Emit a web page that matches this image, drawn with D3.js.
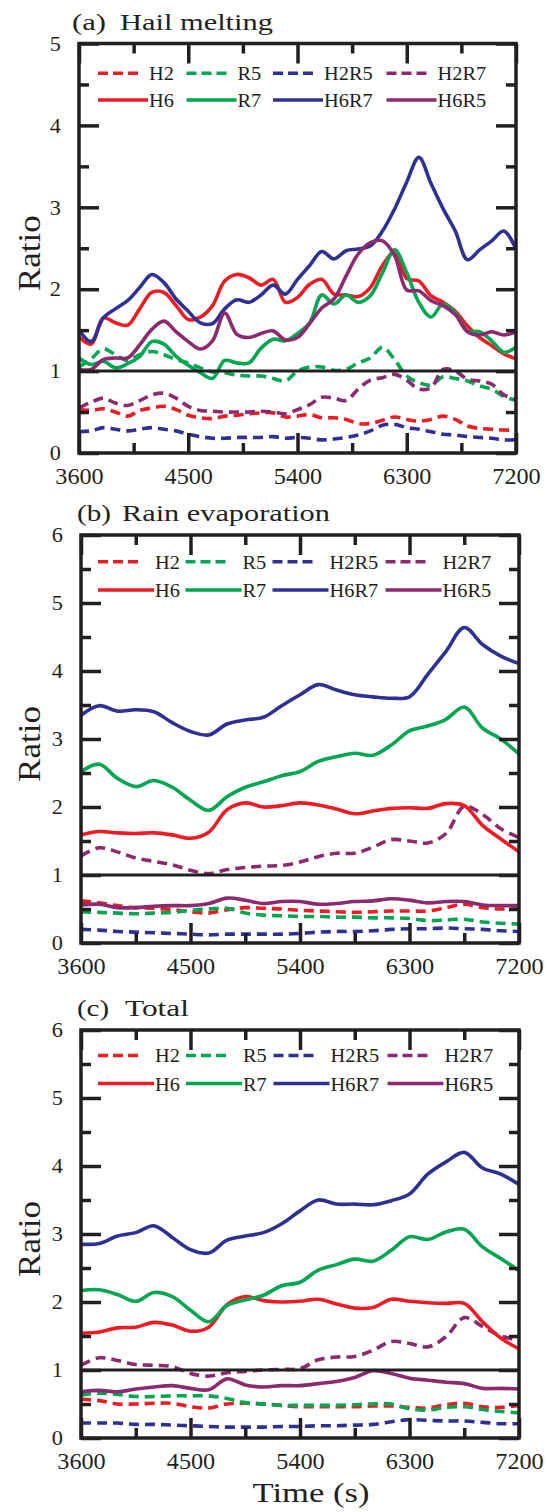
<!DOCTYPE html>
<html lang="en">
<head>
<meta charset="UTF-8">
<title>Ratio time series</title>
<script src="https://d3js.org/d3.v7.min.js"></script>
<style>
  body { margin: 0; background: #fff; }
  svg { display: block; }
</style>
</head>
<body>
<svg id="chart" width="547" height="1512"></svg>
<script>
// series, colours and dash style
const seriesNames = ["H2", "R5", "H2R5", "H2R7", "H6", "R7", "H6R7", "H6R5"];
const seriesColors = ["#ed1c24", "#00a651", "#2e3192", "#8b2a6e", "#ed1c24", "#00a651", "#2e3192", "#8b2a6e"];
const seriesDashed = [true, true, true, true, false, false, false, false];

const xMajor = [3600, 4500, 5400, 6300, 7200];
const xMinor = [4050, 4950, 5850, 6750];

// (a) hail melting, every 100 s
const hailTime = [3600, 3700, 3800, 3900, 4000, 4100, 4200, 4300, 4400, 4500, 4600, 4700, 4800,
  4900, 5000, 5100, 5200, 5300, 5400, 5500, 5600, 5700, 5800, 5900, 6000, 6100, 6200, 6300,
  6400, 6500, 6600, 6700, 6800, 6900, 7000, 7100, 7200];
const hailH2 = [0.53, 0.52, 0.54, 0.50, 0.45, 0.52, 0.55, 0.57, 0.53, 0.46, 0.43, 0.42, 0.45, 0.46, 0.48, 0.49, 0.49, 0.44, 0.45, 0.47,
  0.43, 0.43, 0.41, 0.36, 0.36, 0.40, 0.44, 0.41, 0.39, 0.41, 0.45, 0.41, 0.33, 0.30, 0.29, 0.28, 0.28];
const hailR5 = [1.05, 1.15, 1.27, 1.20, 1.13, 1.20, 1.24, 1.20, 1.14, 1.10, 1.04, 0.99, 0.98, 0.95, 0.94, 0.94, 0.91, 0.88, 1.00, 1.05,
  1.05, 1.01, 1.02, 1.10, 1.16, 1.29, 1.14, 0.94, 0.86, 0.83, 0.93, 0.91, 0.88, 0.82, 0.78, 0.69, 0.64];
const hailH2R5 = [0.26, 0.27, 0.31, 0.29, 0.27, 0.29, 0.31, 0.29, 0.27, 0.23, 0.20, 0.18, 0.18, 0.19, 0.19, 0.19, 0.20, 0.18, 0.19, 0.18,
  0.16, 0.17, 0.19, 0.22, 0.27, 0.34, 0.35, 0.31, 0.29, 0.26, 0.23, 0.22, 0.20, 0.19, 0.18, 0.16, 0.16];
const hailH2R7 = [0.55, 0.62, 0.67, 0.61, 0.58, 0.64, 0.71, 0.73, 0.67, 0.57, 0.52, 0.51, 0.50, 0.50, 0.50, 0.51, 0.50, 0.48, 0.53, 0.59,
  0.68, 0.67, 0.64, 0.78, 0.89, 0.92, 0.96, 0.89, 0.78, 0.80, 1.02, 1.00, 0.90, 0.88, 0.84, 0.71, 0.66];
const hailH6 = [1.42, 1.33, 1.65, 1.59, 1.56, 1.76, 1.96, 1.96, 1.80, 1.63, 1.66, 1.80, 2.10, 2.18, 2.14, 2.05, 2.12, 1.84, 1.90, 2.06,
  2.12, 1.94, 1.93, 1.91, 2.02, 2.29, 2.45, 2.13, 2.10, 1.92, 1.84, 1.73, 1.55, 1.41, 1.31, 1.21, 1.15];
const hailR7 = [1.16, 1.08, 1.12, 1.04, 1.09, 1.18, 1.36, 1.33, 1.18, 1.07, 0.98, 0.91, 1.13, 1.10, 1.10, 1.28, 1.39, 1.37, 1.46, 1.59,
  1.93, 1.82, 1.93, 1.84, 1.92, 2.20, 2.48, 2.20, 1.84, 1.66, 1.82, 1.71, 1.49, 1.48, 1.37, 1.23, 1.29];
const hailH6R7 = [1.50, 1.36, 1.65, 1.76, 1.86, 2.02, 2.18, 2.08, 1.88, 1.73, 1.59, 1.58, 1.76, 1.87, 1.84, 1.93, 2.05, 1.94, 2.12, 2.29,
  2.46, 2.37, 2.47, 2.49, 2.53, 2.71, 2.98, 3.31, 3.61, 3.29, 2.98, 2.71, 2.36, 2.48, 2.59, 2.71, 2.49];
const hailH6R5 = [1.02, 1.02, 1.14, 1.16, 1.16, 1.32, 1.51, 1.61, 1.48, 1.36, 1.27, 1.37, 1.71, 1.45, 1.41, 1.46, 1.49, 1.38, 1.41, 1.58,
  1.77, 1.88, 2.16, 2.43, 2.57, 2.59, 2.41, 1.99, 1.98, 1.86, 1.80, 1.69, 1.48, 1.44, 1.48, 1.44, 1.48];

// (b) rain evaporation and (c) total, every 150 s
const stepTime = [3600, 3750, 3900, 4050, 4200, 4350, 4500, 4650, 4800, 4950, 5100, 5250, 5400,
  5550, 5700, 5850, 6000, 6150, 6300, 6450, 6600, 6750, 6900, 7050, 7200];

const evapH2 = [0.62, 0.59, 0.55, 0.52, 0.51, 0.49, 0.46, 0.44, 0.49, 0.52, 0.51, 0.50, 0.48, 0.47, 0.46, 0.45, 0.46, 0.47, 0.47, 0.47, 0.52, 0.57, 0.52, 0.50, 0.50];
const evapR5 = [0.46, 0.45, 0.44, 0.43, 0.44, 0.45, 0.48, 0.50, 0.51, 0.44, 0.41, 0.40, 0.39, 0.39, 0.38, 0.38, 0.37, 0.37, 0.36, 0.33, 0.34, 0.35, 0.31, 0.29, 0.28];
const evapH2R5 = [0.20, 0.19, 0.17, 0.16, 0.15, 0.14, 0.13, 0.12, 0.13, 0.13, 0.13, 0.13, 0.14, 0.16, 0.17, 0.17, 0.18, 0.20, 0.21, 0.21, 0.22, 0.21, 0.20, 0.18, 0.17];
const evapH2R7 = [1.28, 1.40, 1.34, 1.25, 1.20, 1.15, 1.07, 1.02, 1.08, 1.11, 1.13, 1.14, 1.19, 1.27, 1.32, 1.32, 1.41, 1.52, 1.50, 1.47, 1.61, 2.01, 1.89, 1.68, 1.55];
const evapH6 = [1.59, 1.64, 1.62, 1.61, 1.62, 1.59, 1.54, 1.63, 1.96, 2.06, 2.00, 2.02, 2.06, 2.03, 1.97, 1.90, 1.94, 1.98, 1.99, 1.98, 2.05, 2.02, 1.73, 1.53, 1.34];
const evapR7 = [2.52, 2.63, 2.42, 2.30, 2.39, 2.29, 2.10, 1.95, 2.15, 2.29, 2.37, 2.46, 2.52, 2.67, 2.74, 2.79, 2.76, 2.91, 3.12, 3.19, 3.29, 3.47, 3.16, 3.00, 2.78];
const evapH6R7 = [3.35, 3.49, 3.41, 3.43, 3.40, 3.24, 3.11, 3.06, 3.22, 3.28, 3.32, 3.49, 3.65, 3.80, 3.72, 3.65, 3.62, 3.60, 3.62, 3.95, 4.29, 4.64, 4.39, 4.22, 4.11];
const evapH6R5 = [0.56, 0.57, 0.52, 0.52, 0.54, 0.55, 0.55, 0.58, 0.66, 0.63, 0.58, 0.61, 0.61, 0.57, 0.58, 0.61, 0.62, 0.65, 0.63, 0.59, 0.61, 0.61, 0.56, 0.55, 0.55];

const totalH2 = [0.57, 0.55, 0.50, 0.50, 0.51, 0.51, 0.46, 0.44, 0.50, 0.51, 0.50, 0.48, 0.46, 0.46, 0.46, 0.46, 0.47, 0.47, 0.45, 0.44, 0.49, 0.51, 0.46, 0.45, 0.48];
const totalR5 = [0.63, 0.66, 0.64, 0.61, 0.61, 0.62, 0.62, 0.62, 0.58, 0.52, 0.50, 0.48, 0.48, 0.48, 0.48, 0.49, 0.50, 0.50, 0.43, 0.41, 0.45, 0.46, 0.42, 0.39, 0.37];
const totalH2R5 = [0.22, 0.22, 0.22, 0.20, 0.20, 0.19, 0.18, 0.17, 0.16, 0.16, 0.16, 0.17, 0.17, 0.18, 0.18, 0.19, 0.20, 0.24, 0.27, 0.26, 0.25, 0.25, 0.23, 0.21, 0.21];
const totalH2R7 = [1.07, 1.18, 1.14, 1.08, 1.07, 1.05, 0.95, 0.91, 0.96, 0.98, 1.00, 1.01, 1.02, 1.15, 1.19, 1.20, 1.29, 1.42, 1.39, 1.34, 1.49, 1.77, 1.64, 1.50, 1.44];
const totalH6 = [1.54, 1.56, 1.62, 1.63, 1.70, 1.66, 1.57, 1.63, 1.96, 2.08, 2.02, 2.00, 2.01, 2.04, 1.97, 1.91, 1.92, 2.04, 2.01, 1.99, 1.98, 1.98, 1.71, 1.47, 1.31];
const totalR7 = [2.17, 2.18, 2.11, 2.01, 2.14, 2.08, 1.88, 1.71, 1.95, 2.03, 2.10, 2.24, 2.29, 2.47, 2.55, 2.63, 2.60, 2.76, 2.96, 2.92, 3.03, 3.07, 2.81, 2.64, 2.46];
const totalH6R7 = [2.85, 2.86, 2.97, 3.02, 3.12, 2.95, 2.77, 2.72, 2.91, 2.97, 3.02, 3.15, 3.34, 3.50, 3.44, 3.44, 3.43, 3.49, 3.59, 3.88, 4.06, 4.20, 3.97, 3.88, 3.73];
const totalH6R5 = [0.68, 0.70, 0.68, 0.72, 0.75, 0.77, 0.73, 0.71, 0.87, 0.78, 0.75, 0.77, 0.77, 0.80, 0.83, 0.89, 0.99, 0.95, 0.88, 0.85, 0.82, 0.80, 0.73, 0.73, 0.72];

const panels = [
  { tag: "(a)", title: "Hail melting", ymax: 5, time: hailTime,
    values: [hailH2, hailR5, hailH2R5, hailH2R7, hailH6, hailR7, hailH6R7, hailH6R5],
    left: 79, right: 516, top: 43.5, bottom: 453,
    tagX: 72, tagW: 34, titleX: 120, titleW: 153,
    legendRows: [29.8, 56.5], legendCols: [98, 186.5, 273, 386.5], legendText: 51, dashLen: 42 },
  { tag: "(b)", title: "Rain evaporation", ymax: 6, time: stepTime,
    values: [evapH2, evapR5, evapH2R5, evapH2R7, evapH6, evapR7, evapH6R7, evapH6R5],
    left: 81, right: 519, top: 535, bottom: 943,
    tagX: 77, tagW: 34, titleX: 122, titleW: 208,
    legendRows: [26.7, 55], legendCols: [98, 185.5, 272.5, 385.5], legendText: 57, dashLen: 40 },
  { tag: "(c)", title: "Total", ymax: 6, time: stepTime,
    values: [totalH2, totalR5, totalH2R5, totalH2R7, totalH6, totalR7, totalH6R7, totalH6R5],
    left: 81, right: 519, top: 1030, bottom: 1438,
    tagX: 77, tagW: 32, titleX: 125, titleW: 64,
    legendRows: [25.4, 53.5], legendCols: [98, 186, 273.5, 387.5], legendText: 57, dashLen: 40 }
];

// pick the first installed Times-like face
function pickFont(list) {
  const c = document.createElement("canvas").getContext("2d");
  const probe = "Hail melting 3600 H2R7";
  c.font = "40px monospace"; const mono = c.measureText(probe).width;
  c.font = "40px sans-serif"; const sans = c.measureText(probe).width;
  for (const f of list) {
    c.font = `40px "${f}", monospace`; const w1 = c.measureText(probe).width;
    c.font = `40px "${f}", sans-serif`; const w2 = c.measureText(probe).width;
    if (w1 !== mono || w2 !== sans) return `"${f}"`;
  }
  return "serif";
}
const font = pickFont(["Liberation Serif", "Times New Roman", "Times", "Tinos", "Nimbus Roman", "DejaVu Serif"]);

// Times advance widths, used to squeeze a wider fallback face
const timesAdvance = { H: 0.722, R: 0.667 };
function timesWidth(str, size) {
  return d3.sum(Array.from(str), ch => timesAdvance[ch] || 0.5) * size;
}

// scale a text horizontally about its anchor so it spans `target` px
function fitWidth(node, target) {
  const w = node.getComputedTextLength();
  if (!w || !target) return;
  const s = target / w;
  const x = +node.getAttribute("x") || 0;
  const prev = node.getAttribute("transform") || "";
  node.setAttribute("transform", `${prev} translate(${x},0) scale(${s},1) translate(${-x},0)`);
}

const svg = d3.select("#chart");
const ink = "#231f20";
const fmt = d3.format("d");

function label(sel, txt, size, x, y, width, extra) {
  const t = sel.append("text").text(txt)
    .attr("font-family", font).attr("font-size", size).attr("fill", ink)
    .attr("transform", `translate(${x},${y})${extra || ""}`);
  return t;
}

const fits = [];

panels.forEach((p, i) => {
  const x = d3.scaleLinear().domain([3600, 7200]).range([p.left, p.right]);
  const y = d3.scaleLinear().domain([0, p.ymax]).range([p.bottom, p.top]);
  const g = svg.append("g");

  g.append("clipPath").attr("id", "clip" + i)
    .append("rect").attr("x", p.left).attr("y", p.top)
    .attr("width", p.right - p.left).attr("height", p.bottom - p.top);

  const line = d3.line()
    .x((d, k) => x(p.time[k]))
    .y(d => y(d))
    .curve(d3.curveCatmullRom.alpha(0.5));

  // dashed first, solid on top
  const lines = g.append("g").attr("clip-path", `url(#clip${i})`);
  seriesNames.forEach((name, s) => {
    lines.append("path")
      .attr("d", line(p.values[s]))
      .attr("fill", "none")
      .attr("stroke", seriesColors[s])
      .attr("stroke-width", 3.6)
      .attr("stroke-dasharray", seriesDashed[s] ? "10,6" : null)
      .attr("stroke-linejoin", "round");
  });

  // reference line at ratio 1
  g.append("line")
    .attr("x1", p.left).attr("x2", p.right)
    .attr("y1", y(1)).attr("y2", y(1))
    .attr("stroke", ink).attr("stroke-width", 3);

  // axes, ticks pointing inward
  const yMajor = d3.range(0, p.ymax + 1);
  const yMinor = d3.range(0.5, p.ymax, 1);
  const axes = [
    [d3.axisBottom(x).tickValues(xMajor).tickSize(-20).tickPadding(14).tickFormat(fmt), `translate(0,${p.bottom})`, 24, 25],
    [d3.axisBottom(x).tickValues(xMinor).tickSize(-10).tickFormat(""), `translate(0,${p.bottom})`],
    [d3.axisTop(x).tickValues(xMajor).tickSize(-20).tickFormat(""), `translate(0,${p.top})`],
    [d3.axisTop(x).tickValues(xMinor).tickSize(-10).tickFormat(""), `translate(0,${p.top})`],
    [d3.axisLeft(y).tickValues(yMajor).tickSize(-20).tickPadding(18).tickFormat(fmt), `translate(${p.left},0)`, 21, 23],
    [d3.axisLeft(y).tickValues(yMinor).tickSize(-10).tickFormat(""), `translate(${p.left},0)`],
    [d3.axisRight(y).tickValues(yMajor).tickSize(-20).tickFormat(""), `translate(${p.right},0)`],
    [d3.axisRight(y).tickValues(yMinor).tickSize(-10).tickFormat(""), `translate(${p.right},0)`]
  ];
  axes.forEach(([ax, tr, size, tSize]) => {
    const a = g.append("g").attr("transform", tr).call(ax)
      .attr("font-family", font).attr("font-size", size || 10);
    a.select(".domain").remove();
    a.selectAll(".tick line").attr("stroke", ink).attr("stroke-width", 3.5);
    if (tSize) {
      a.selectAll("text").attr("fill", ink)
        .each(function () { fits.push([this, timesWidth(this.textContent, tSize) * 0.97]); });
    }
  });

  g.append("rect")
    .attr("x", p.left).attr("y", p.top)
    .attr("width", p.right - p.left).attr("height", p.bottom - p.top)
    .attr("fill", "none").attr("stroke", ink).attr("stroke-width", 3.5);

  // panel title
  fits.push([label(g, p.tag, 24, p.tagX, p.top - 14).node(), p.tagW]);
  fits.push([label(g, p.title, 24, p.titleX, p.top - 14).node(), p.titleW]);

  // y label
  fits.push([label(g, "Ratio", 32, 40, (p.top + p.bottom) / 2 + 5, 0, " rotate(-90)")
    .attr("text-anchor", "middle").node(), 76]);

  // legend
  seriesNames.forEach((name, s) => {
    const row = seriesDashed[s] ? 0 : 1;
    const ly = p.top + p.legendRows[row];
    const lx = p.legendCols[s % 4];
    const len = seriesDashed[s] ? p.dashLen : p.legendText - 1;
    g.append("line")
      .attr("x1", lx).attr("x2", lx + len)
      .attr("y1", ly).attr("y2", ly)
      .attr("stroke", seriesColors[s]).attr("stroke-width", 3.5)
      .attr("stroke-dasharray", seriesDashed[s] ? "10,5" : null);
    fits.push([label(g, name, 19, lx + p.legendText, ly + 7).node(), timesWidth(name, 21) * 0.97]);
  });
});

fits.push([label(svg, "Time (s)", 27, 311, 1502).attr("text-anchor", "middle").node(), 117]);

fits.forEach(([node, w]) => fitWidth(node, w));
</script>
</body>
</html>
